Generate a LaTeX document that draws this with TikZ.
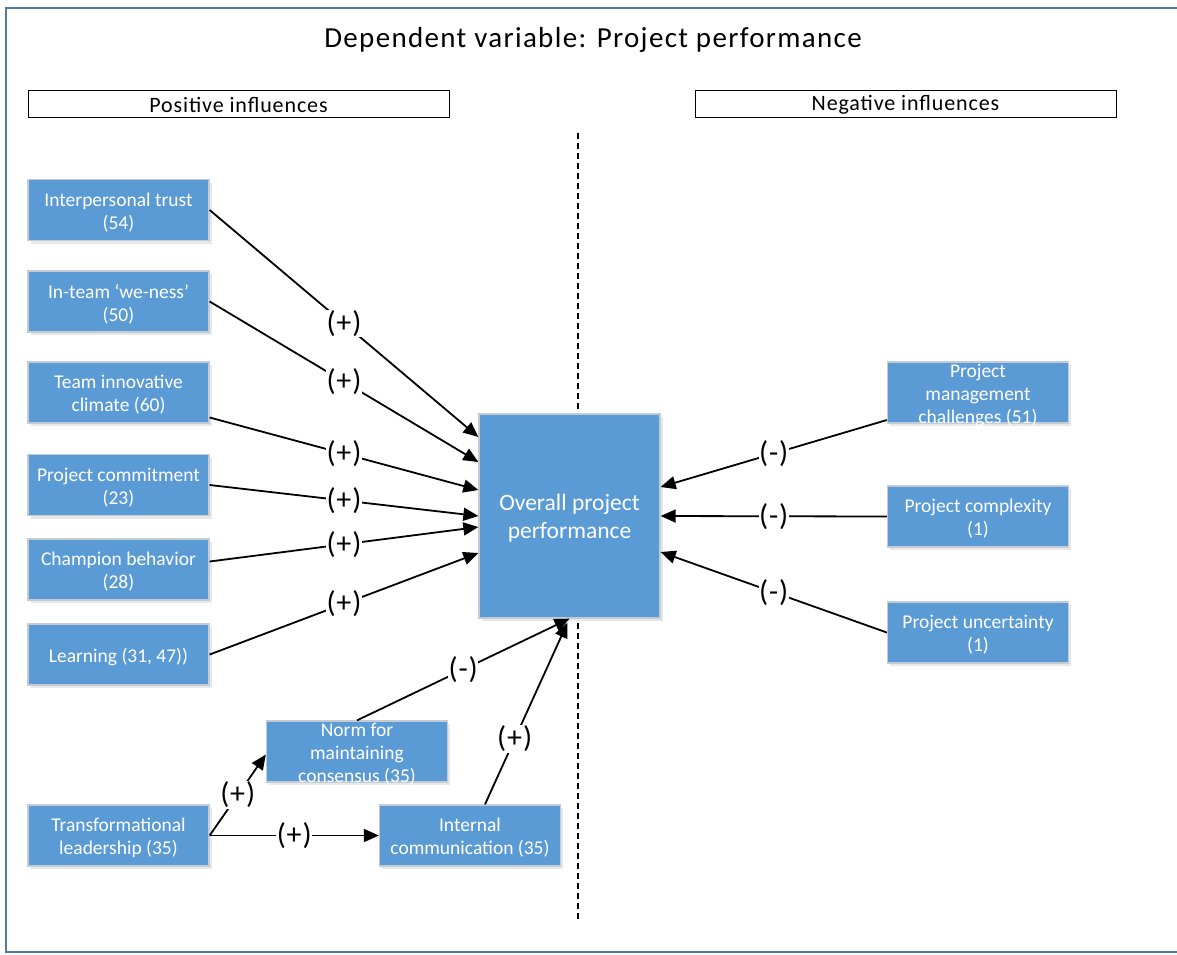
\documentclass[tikz,border=0pt]{standalone}
\usepackage{fontspec}
\setmainfont{Carlito}
\newfontfamily\spacedtitle[LetterSpace=4.6]{Carlito}
\newfontfamily\spacedhead[LetterSpace=4]{Carlito}
\newfontfamily\spacedsign[LetterSpace=3]{Carlito}
\usetikzlibrary{arrows.meta,calc,shadows}
\definecolor{boxblue}{HTML}{5B9BD5}
\definecolor{boxedge}{RGB}{195,203,212}
\definecolor{frameblue}{RGB}{80,124,164}
\begin{document}
\begin{tikzpicture}[x=1pt,y=-1pt,
  bluebox/.style={draw=boxedge,line width=1.3pt,fill=boxblue,inner sep=0pt,
    minimum width=181pt,minimum height=61pt,
    drop shadow={shadow xshift=2.5pt,shadow yshift=-3pt,opacity=0.18}},
  boxtext/.style={text=white,align=center,inner sep=0pt,yshift=-2.5pt,font=\fontsize{19.5}{23}\selectfont},
  headbox/.style={draw=black,line width=0.9pt,fill=white,inner sep=0pt,
    minimum width=421pt,minimum height=27pt},
  headtext/.style={inner sep=0pt,yshift=-1.5pt,font=\spacedhead\fontsize{22}{22}\selectfont},
  conn/.style={line width=1.8pt,-{Triangle[length=15pt,width=13pt]}},
  sign/.style={fill=white,inner sep=0.5pt,font=\spacedsign\fontsize{30}{30}\selectfont}]
\useasboundingbox (0,0) rectangle (1177,954);
\fill[white] (0,0) rectangle (1177,954);
\draw[frameblue,line width=2.2pt] (1190,8) -- (6,8) -- (6,952) -- (1190,952);

\node[inner sep=0pt,font=\spacedtitle\fontsize{29}{32}\selectfont] (title) at (593,40) {Dependent variable: Project performance};
\node[headbox] (pos) at (238.5,103.5) {};
\node[headtext] (post) at (pos) {Positive influences};
\node[headbox] (neg) at (905.5,103.5) {};
\node[headtext] (negt) at (neg) {Negative influences};

\coordinate (dtop) at (578,133);
\coordinate (dbot) at (578,920);
\draw[line width=1.6pt,dash pattern=on 6pt off 4pt] (dtop) -- (dbot);

% left column
\node[bluebox] (b1) at (118.5,210) {};
\node[boxtext] (t1) at (b1) {Interpersonal trust\\(54)};
\node[bluebox] (b2) at (118.5,301.5) {};
\node[boxtext] (t2) at (b2) {In-team ‘we-ness’\\(50)};
\node[bluebox] (b3) at (118.5,392.5) {};
\node[boxtext] (t3) at (b3) {Team innovative\\climate (60)};
\node[bluebox] (b4) at (118.5,485) {};
\node[boxtext] (t4) at (b4) {Project commitment\\(23)};
\node[bluebox] (b5) at (118.5,569.5) {};
\node[boxtext] (t5) at (b5) {Champion behavior\\(28)};
\node[bluebox] (b6) at (118.5,654.5) {};
\node[boxtext] (t6) at (b6) {Learning (31, 47))};
\node[bluebox] (b7) at (118.5,835.5) {};
\node[boxtext] (t7) at (b7) {Transformational\\leadership (35)};
\node[bluebox] (nm) at (357,751.5) {};
\node[boxtext] (tnm) at (nm) {Norm for\\maintaining\\consensus (35)};
\node[bluebox] (ic) at (470,835.5) {};
\node[boxtext] (tic) at (ic) {Internal\\communication (35)};

% centre
\node[bluebox,minimum height=204pt] (ov) at (569.5,516) {};
\node[boxtext,font=\fontsize{23.5}{28}\selectfont] (tov) at (ov) {Overall project\\performance};

% right column
\node[bluebox] (r1) at (978,392.5) {};
\node[boxtext] (tr1) at (r1) {Project\\management\\challenges (51)};
\node[bluebox] (r2) at (978,516.5) {};
\node[boxtext] (tr2) at (r2) {Project complexity\\(1)};
\node[bluebox] (r3) at (978,632.5) {};
\node[boxtext] (tr3) at (r3) {Project uncertainty\\(1)};

% left arrows
\draw[conn] (b1.east) -- node[sign,pos=0.5]{(+)} ($(ov.west)+(0,-79)$);
\draw[conn] (b2.east) -- node[sign,pos=0.5]{(+)} ($(ov.west)+(0,-54)$);
\draw[conn] ($(b3.east)+(0,25)$) -- node[sign,pos=0.5]{(+)} ($(ov.west)+(0,-26)$);
\draw[conn] (b4.east) -- node[sign,pos=0.5]{(+)} (ov.west);
\draw[conn] ($(b5.east)+(0,-8)$) -- node[sign,pos=0.5]{(+)} ($(ov.west)+(0,11)$);
\draw[conn] (b6.east) -- node[sign,pos=0.5]{(+)} ($(ov.west)+(0,37)$);

% right arrows
\draw[conn] ($(r1.west)+(0,27.5)$) -- node[sign,pos=0.5]{(-)} ($(ov.east)+(0,-29)$);
\draw[conn] (r2.west) -- node[sign,pos=0.5]{(-)} (ov.east);
\draw[conn] (r3.west) -- node[sign,pos=0.5]{(-)} ($(ov.east)+(0,36)$);

% bottom arrows
\draw[conn] (nm.north) -- node[sign,pos=0.5]{(-)} (ov.south);
\draw[conn] ($(ic.north)+(15,0)$) -- node[sign,pos=0.36]{(+)} ($(ov.south)+(-2,4)$);
\draw[conn] (b7.east) -- node[sign,pos=0.5]{(+)} ($(nm.west)+(0,3)$);
\draw[conn] (b7.east) -- node[sign,pos=0.5]{(+)} (ic.west);
\end{tikzpicture}
\end{document}
